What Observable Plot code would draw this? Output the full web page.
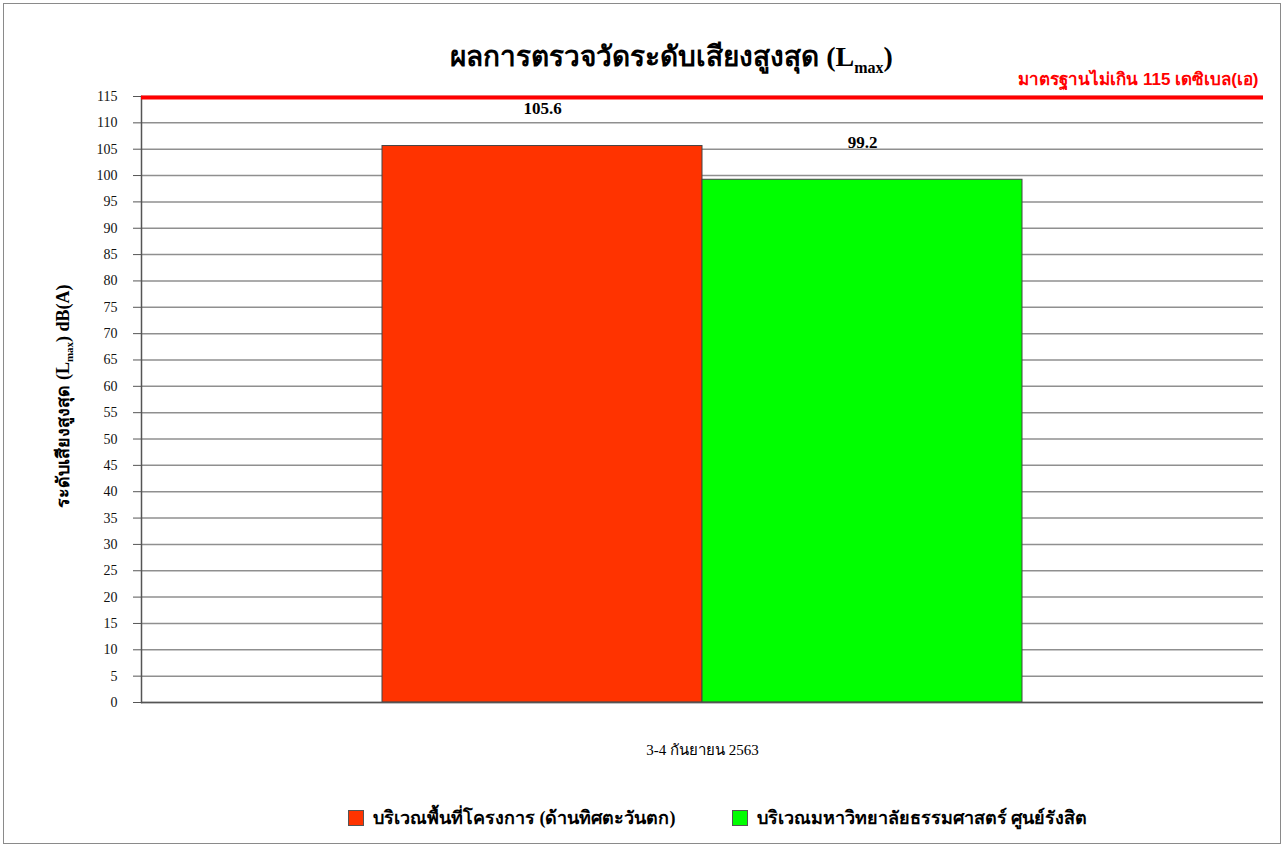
<!DOCTYPE html>
<html>
<head>
<meta charset="utf-8">
<script src="https://cdn.jsdelivr.net/npm/d3@7"></script>
<script src="https://cdn.jsdelivr.net/npm/@observablehq/plot@0.6"></script>
<style>
  body { margin: 0; background: #fff; }
  #wrap { position: relative; width: 1287px; height: 848px; overflow: hidden; font-family: "Liberation Serif", "DejaVu Serif", serif; }
  #frame { position: absolute; left: 3px; top: 3px; width: 1278px; height: 841px; border: 1px solid #8a8a8a; box-sizing: border-box; }
  #title { position: absolute; left: 0; width: 1287px; top: 34px; text-align: center; font-size: 28px; font-weight: bold; color: #000; padding-left: 56px; box-sizing: border-box; }
  #title sub { font-size: 16px; }
  #ylabel { position: absolute; left: 62px; top: 396px; transform: translate(-50%, -50%) rotate(-90deg); white-space: nowrap; font-size: 18px; font-weight: bold; color: #000; }
  #ylabel sub { font-size: 11px; }
  #plot { position: absolute; left: 0; top: 0; }
  #legend { position: absolute; left: 348px; top: 803px; display: flex; justify-content: flex-start; gap: 56px; font-size: 18px; font-weight: bold; color: #000; white-space: nowrap; }
  .item { display: flex; align-items: center; gap: 9px; }
  .sw { width: 16px; height: 16px; border: 1px solid #555; box-sizing: border-box; }
</style>
</head>
<body>
<div id="wrap">
  <div id="frame"></div>
  <div id="plot"></div>
  <div id="title">ผลการตรวจวัดระดับเสียงสูงสุด (L<sub>max</sub>)</div>
  <div id="ylabel">ระดับเสียงสูงสุด (L<sub>max</sub>) dB(A)</div>
  <div id="legend"></div>
</div>
<script>
// ---- data ----
const categories = ["3-4 กันยายน 2563"];
const seriesNames = ["บริเวณพื้นที่โครงการ (ด้านทิศตะวันตก)", "บริเวณมหาวิทยาลัยธรรมศาสตร์ ศูนย์รังสิต"];
const seriesValues = [105.6, 99.2];
const standardLimit = [115];
const standardLabel = "มาตรฐานไม่เกิน 115 เดซิเบล(เอ)";
const yTicks = [0,5,10,15,20,25,30,35,40,45,50,55,60,65,70,75,80,85,90,95,100,105,110,115];

// ---- styles ----
const seriesColors = ["#ff3300", "#00ff00"];

const data = seriesNames.map((s, i) => ({category: categories[0], series: s, value: seriesValues[i]}));

const chart = Plot.plot({
  width: 1287,
  height: 780,
  marginLeft: 141,
  marginRight: 24,
  marginTop: 96,
  marginBottom: 78,
  style: {fontFamily: "'Liberation Serif', 'DejaVu Serif', serif", fontSize: "14px", color: "#111", background: "transparent", overflow: "visible"},
  x: {domain: seriesNames, paddingInner: 0, paddingOuter: 0.75, axis: null},
  y: {domain: [0, 115], ticks: yTicks, label: null},
  color: {domain: seriesNames, range: seriesColors},
  marks: [
    Plot.gridY(yTicks, {stroke: "#8f8f8f", strokeOpacity: 1, strokeWidth: 1.5}),
    Plot.axisY(yTicks, {tickSize: 8, tickPadding: 16, fontSize: 14, stroke: "#555", label: null}),
    Plot.barY(data, {x: "series", y: "value", fill: "series", stroke: "#444", strokeWidth: 1, inset: 0}),
    Plot.ruleY([0], {stroke: "#555", strokeWidth: 1.5}),
    Plot.frame({anchor: "left", stroke: "#555", strokeWidth: 1.5}),
    Plot.text(data, {x: "series", y: "value", text: d => d.value.toFixed(1), dy: -37, fontSize: 17, fontWeight: "bold", fill: "#000"}),
    Plot.ruleY(standardLimit, {stroke: "#ff0000", strokeWidth: 4, dy: 1}),
    Plot.text(standardLimit, {y: d => d, frameAnchor: "right", text: () => standardLabel, textAnchor: "end", dx: -5, dy: -17, fontSize: 17, fontWeight: "bold", fill: "#ff0000", fontFamily: "'Liberation Sans', 'DejaVu Sans', sans-serif"}),
    Plot.text(categories, {frameAnchor: "bottom", text: d => d, dy: 52, fontSize: 15, fill: "#000"})
  ]
});
document.getElementById("plot").appendChild(chart);

// legend
const legend = d3.select("#legend");
seriesNames.forEach((s, i) => {
  const it = legend.append("div").attr("class", "item");
  it.append("div").attr("class", "sw").style("background", seriesColors[i]);
  it.append("span").text(s);
});
</script>
</body>
</html>
